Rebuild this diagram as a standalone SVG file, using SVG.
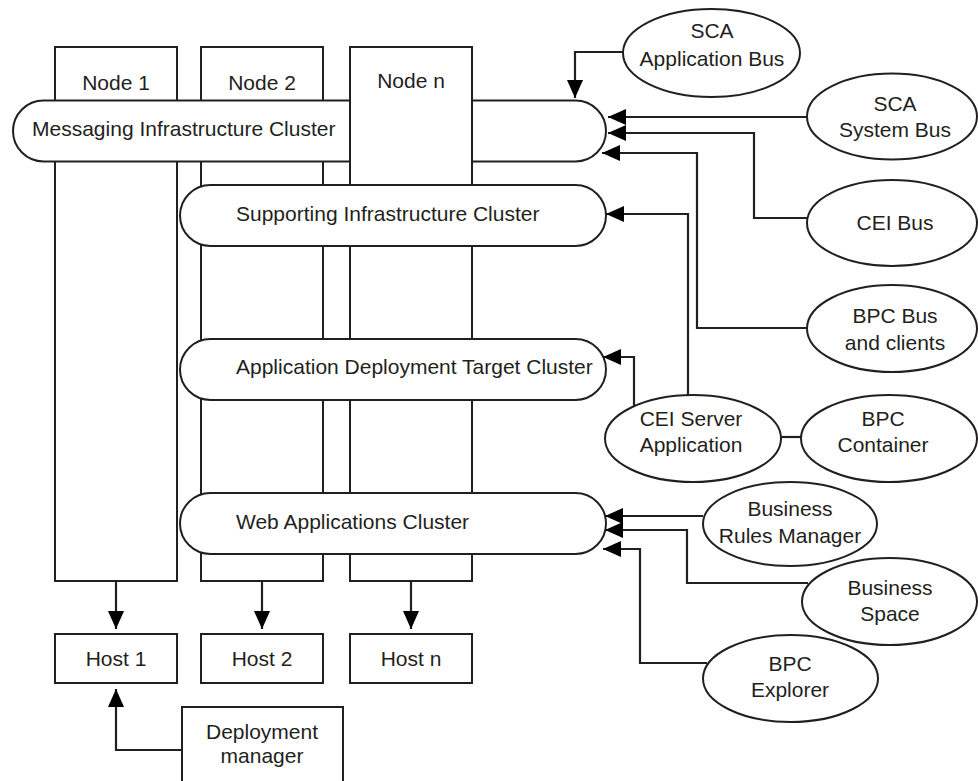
<svg xmlns="http://www.w3.org/2000/svg" width="978" height="781" viewBox="0 0 978 781">
<style>
.s{fill:#fff;stroke:#231f20;stroke-width:2}
.t{font-family:"Liberation Sans",Arial,Helvetica,sans-serif;font-size:21px;fill:#231f20}
.m{text-anchor:middle}
.c{fill:none;stroke:#231f20;stroke-width:2.2}
</style>
<defs>
<marker id="ah" markerUnits="userSpaceOnUse" markerWidth="19" markerHeight="17" refX="18" refY="8" orient="auto">
<path d="M0,0 L18,8 L0,16 z" fill="#000"/>
</marker>
</defs>
<rect width="978" height="781" fill="#fff"/>
<g id="node1"><rect class="s" x="55" y="47" width="122" height="534"/><text class="t m" x="116" y="90">Node 1</text></g>
<g id="node2"><rect class="s" x="201" y="47" width="122" height="534"/><text class="t m" x="262" y="90">Node 2</text></g>
<g id="messaging"><rect class="s" x="13" y="100.5" width="593" height="61" rx="30.5"/><text class="t" x="32" y="136">Messaging Infrastructure Cluster</text></g>
<g id="noden"><rect class="s" x="350" y="47" width="122" height="534"/><text class="t m" x="411" y="88">Node n</text></g>
<g id="supporting"><rect class="s" x="180" y="185" width="426" height="61" rx="30.5"/><text class="t" x="236" y="221">Supporting Infrastructure Cluster</text></g>
<g id="appdeploy"><rect class="s" x="180" y="339" width="426" height="61" rx="30.5"/><text class="t" x="236" y="374">Application Deployment Target Cluster</text></g>
<g id="webapps"><rect class="s" x="180" y="493" width="426" height="61" rx="30.5"/><text class="t" x="236" y="529">Web Applications Cluster</text></g>
<g id="host1"><rect class="s" x="55" y="634" width="122" height="49"/><text class="t m" x="116" y="666">Host 1</text></g>
<g id="host2"><rect class="s" x="201" y="634" width="122" height="49"/><text class="t m" x="262" y="666">Host 2</text></g>
<g id="hostn"><rect class="s" x="350" y="634" width="122" height="49"/><text class="t m" x="411" y="666">Host n</text></g>
<g id="dm"><rect class="s" x="182" y="707" width="161" height="90"/><text class="t m" x="262" y="739">Deployment</text><text class="t m" x="262" y="763">manager</text></g>
<g id="scaapp"><ellipse class="s" cx="711.5" cy="53" rx="88.5" ry="44"/><text class="t m" x="712" y="38">SCA</text><text class="t m" x="712" y="66">Application Bus</text></g>
<g id="scasys"><ellipse class="s" cx="892" cy="116.5" rx="85" ry="43"/><text class="t m" x="895" y="111">SCA</text><text class="t m" x="895" y="137">System Bus</text></g>
<g id="ceibus"><ellipse class="s" cx="892" cy="223" rx="85" ry="43"/><text class="t m" x="895" y="230">CEI Bus</text></g>
<g id="bpcbus"><ellipse class="s" cx="892" cy="328.5" rx="85" ry="43.5"/><text class="t m" x="895" y="323">BPC Bus</text><text class="t m" x="895" y="350">and clients</text></g>
<g id="ceiserver"><ellipse class="s" cx="693" cy="438.5" rx="88" ry="43.5"/><text class="t m" x="691" y="426">CEI Server</text><text class="t m" x="691" y="452">Application</text></g>
<g id="bpccontainer"><ellipse class="s" cx="889" cy="438.5" rx="88" ry="43.5"/><text class="t m" x="883" y="426">BPC</text><text class="t m" x="883" y="452">Container</text></g>
<g id="brm"><ellipse class="s" cx="790" cy="524" rx="87" ry="42"/><text class="t m" x="790" y="516">Business</text><text class="t m" x="790" y="543">Rules Manager</text></g>
<g id="bspace"><ellipse class="s" cx="889.5" cy="601.5" rx="87.5" ry="43.5"/><text class="t m" x="890" y="595">Business</text><text class="t m" x="890" y="621">Space</text></g>
<g id="bpcexplorer"><ellipse class="s" cx="790.5" cy="678.5" rx="87.5" ry="43.5"/><text class="t m" x="790" y="671">BPC</text><text class="t m" x="790" y="697">Explorer</text></g>
<g id="connectors">
<path class="c" d="M623,52 H575 V98" marker-end="url(#ah)"/>
<path class="c" d="M807,117 H608" marker-end="url(#ah)"/>
<path class="c" d="M807,218 H754 V133 H608" marker-end="url(#ah)"/>
<path class="c" d="M807,328 H697 V153 H602" marker-end="url(#ah)"/>
<path class="c" d="M688,395 V214 H606" marker-end="url(#ah)"/>
<path class="c" d="M634,407 V357 H603" marker-end="url(#ah)"/>
<path class="c" d="M781,437 H801"/>
<path class="c" d="M703,516 H605" marker-end="url(#ah)"/>
<path class="c" d="M808,583 H687 V530 H605" marker-end="url(#ah)"/>
<path class="c" d="M707,663 H640 V549 H603" marker-end="url(#ah)"/>
<path class="c" d="M116,581 V629" marker-end="url(#ah)"/>
<path class="c" d="M262,581 V629" marker-end="url(#ah)"/>
<path class="c" d="M411,581 V629" marker-end="url(#ah)"/>
<path class="c" d="M182,750 H116 V689" marker-end="url(#ah)"/>
</g>
</svg>
